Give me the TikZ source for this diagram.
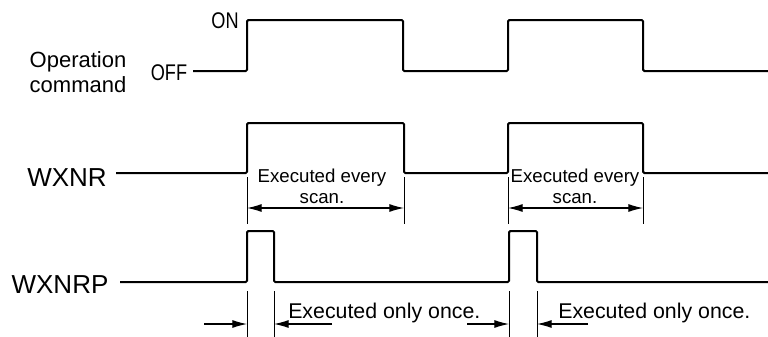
\documentclass[tikz,border=0pt]{standalone}
\usepackage{fontspec}
\setmainfont{Liberation Sans}
\usetikzlibrary{arrows.meta}

\tikzset{
  signal/.style={line width=1.5pt, rounded corners=1pt},
  extline/.style={line width=0.7pt},
  dimline/.style={line width=0.8pt},
  bothtips/.style={{Latex[length=11pt,width=6pt]}-{Latex[length=11pt,width=6pt]}},
  endtip/.style={-{Latex[length=11pt,width=6pt]}},
  siglabel/.style={inner sep=0pt, font=\fontsize{19.5}{22}\selectfont},
  levellabel/.style={inner sep=0pt, xscale=0.8, font=\fontsize{17}{17}\selectfont},
  scannote/.style={inner sep=0pt, align=center, font=\fontsize{14}{15.75}\selectfont},
  oncenote/.style={inner sep=0pt, anchor=base west, font=\fontsize{16}{18}\selectfont}
}

\begin{document}
\begin{tikzpicture}[x=0.75pt,y=-0.75pt]
    \useasboundingbox (0,0) rectangle (768,336);

    % signal names
    \node[inner sep=0pt, align=center, font=\fontsize{16.5}{18.75}\selectfont] (opcmd) at (78,72) {Operation\\command};
    \node[levellabel] (on) at (225,21) {ON};
    \node[levellabel] (off) at (169,73) {OFF};
    \node[siglabel] (wxnr) at (67,178) {WXNR};
    \node[siglabel] (wxnrp) at (60,285) {WXNRP};

    % operation command
    \draw[signal] (193,71) -- (247,71) -- (247,20) -- (403,20) -- (403,71) -- (508,71)
        -- (508,20) -- (643,20) -- (643,71) -- (775,71);

    % WXNR
    \draw[signal] (116,173) -- (247,173) -- (247,123) -- (404,123) -- (404,173) -- (508,173)
        -- (508,123) -- (643,123) -- (643,173) -- (775,173);
    \foreach \x in {247,404,508,643}
        \draw[extline] (\x,177) -- (\x,224);
    \draw[dimline, bothtips] (247,208) -- (404,208);
    \draw[dimline, bothtips] (508,208) -- (643,208);
    \node[scannote] (scan1) at (322,186) {Executed every\\scan.};
    \node[scannote] (scan2) at (575,186) {Executed every\\scan.};

    % WXNRP
    \draw[signal] (120,282) -- (247,282) -- (247,231) -- (274,231) -- (274,282) -- (509,282)
        -- (509,231) -- (537,231) -- (537,282) -- (775,282);
    \foreach \x in {247,274,509,537}
        \draw[extline] (\x,291) -- (\x,340);
    \draw[dimline, endtip] (204,324) -- (247,324);
    \draw[dimline, endtip] (332,324) -- (274,324);
    \draw[dimline, endtip] (467,324) -- (509,324);
    \draw[dimline, endtip] (588,324) -- (537,324);
    \node[oncenote] (once1) at (288,318) {Executed only once.};
    \node[oncenote] (once2) at (558,318) {Executed only once.};
\end{tikzpicture}
\end{document}
